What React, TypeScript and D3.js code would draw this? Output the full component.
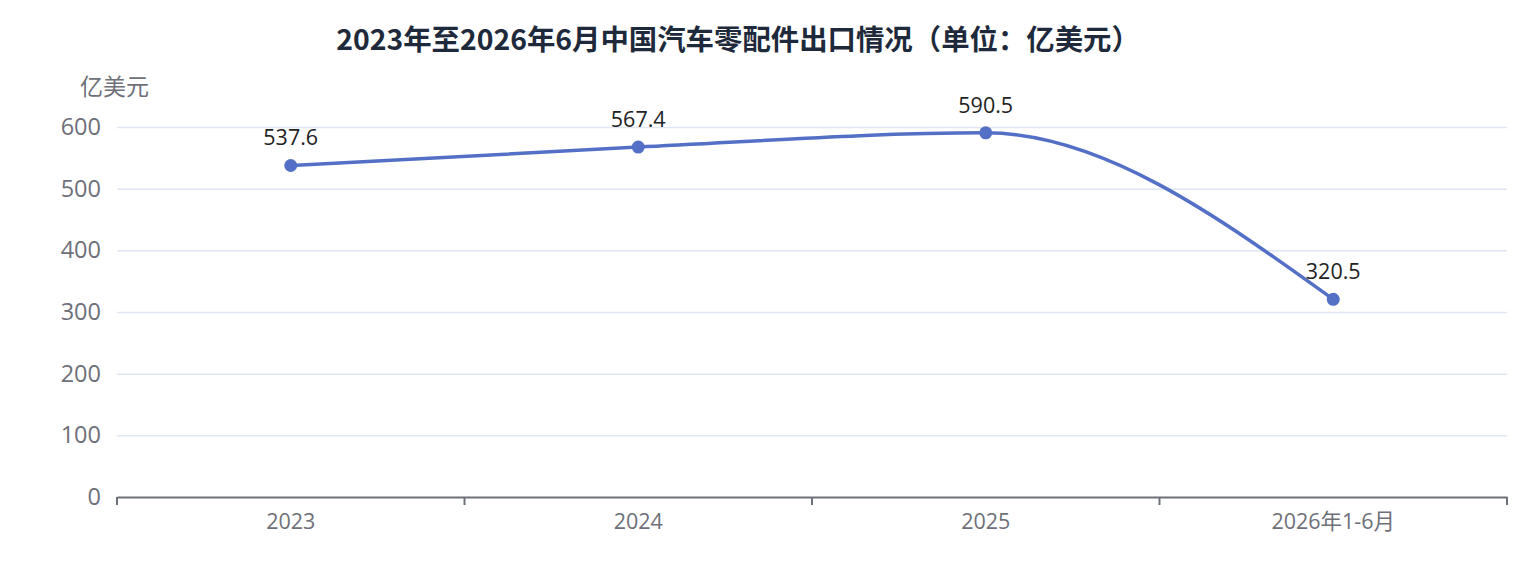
import { useEffect, useRef } from "react";
import * as d3 from "d3";

const categories = ["2023", "2024", "2025", "2026年1-6月"];
const values = [537.6, 567.4, 590.5, 320.5];
const yTicks = [0, 100, 200, 300, 400, 500, 600];

const title = "2023年至2026年6月中国汽车零配件出口情况（单位：亿美元）";
const yName = "亿美元";

const FONT = "'Open Sans', 'Noto Sans CJK SC', sans-serif";
const CJK = "'Noto Sans CJK SC', 'Noto Sans', sans-serif";

export default function App() {
  const ref = useRef<SVGSVGElement | null>(null);

  useEffect(() => {
    document.body.style.margin = "0";
    if (!ref.current) return;

    const width = 1528;
    const height = 583;
    const margin = { top: 127, right: 21, bottom: 86, left: 117 };

    const svg = d3.select(ref.current).attr("viewBox", `0 0 ${width} ${height}`);
    svg.selectAll("*").remove();
    svg.style("font-family", FONT);

    /* ---------------- SCALES ---------------- */

    const x = d3
      .scaleBand()
      .domain(categories)
      .range([margin.left, width - margin.right]);

    const y = d3
      .scaleLinear()
      .domain([0, 600])
      .range([height - margin.bottom, margin.top]);

    const cx = (c: string) => x(c)! + x.bandwidth() / 2;

    /* ---------------- TITLE ---------------- */

    svg.append("text")
      .attr("x", 738)
      .attr("y", 50)
      .attr("text-anchor", "middle")
      .attr("font-size", 28.4)
      .attr("font-weight", "bold")
      .attr("font-family", CJK)
      .attr("fill", "#1e2a3b")
      .text(title);

    svg.append("text")
      .attr("x", 80)
      .attr("y", 95)
      .attr("font-size", 23)
      .attr("font-family", CJK)
      .attr("fill", "#6e7079")
      .text(yName);

    /* ---------------- AXES ---------------- */

    const yAxis = d3
      .axisLeft(y)
      .tickValues(yTicks)
      .tickSize(-(width - margin.left - margin.right))
      .tickPadding(16);

    const gy = svg.append("g")
      .attr("transform", `translate(${margin.left},0)`)
      .call(yAxis);

    gy.select(".domain").remove();
    gy.selectAll(".tick line").attr("stroke", "#e0e6f1").attr("stroke-width", 1.5);
    gy.selectAll(".tick text")
      .attr("font-size", 23.5)
      .attr("fill", "#6e7079")
      .attr("font-family", FONT);
    gy.selectAll(".tick").filter((d) => d === 0).select("line").remove();

    const gx = svg.append("g")
      .attr("transform", `translate(0,${height - margin.bottom})`)
      .call(d3.axisBottom(x).tickSize(0).tickPadding(17));

    gx.select(".domain").attr("stroke", "#6e7079").attr("stroke-width", 2);
    gx.selectAll(".tick text")
      .attr("font-size", 21.5)
      .attr("fill", "#6e7079")
      .attr("font-family", FONT);

    // boundary ticks between categories
    const bounds = [...categories.map((c) => x(c)!), width - margin.right];
    gx.selectAll(".bound")
      .data(bounds)
      .enter()
      .append("line")
      .attr("x1", (d) => d)
      .attr("x2", (d) => d)
      .attr("y1", 0)
      .attr("y2", 8)
      .attr("stroke", "#6e7079")
      .attr("stroke-width", 2);

    /* ---------------- LINE ---------------- */

    const line = d3.line<number>()
      .x((_, i) => cx(categories[i]))
      .y((d) => y(d))
      .curve(d3.curveMonotoneX);

    svg.append("path")
      .datum(values)
      .attr("fill", "none")
      .attr("stroke", "#5470c6")
      .attr("stroke-width", 3.5)
      .attr("d", line);

    svg.selectAll(".dot")
      .data(values)
      .enter()
      .append("circle")
      .attr("cx", (_, i) => cx(categories[i]))
      .attr("cy", (d) => y(d))
      .attr("r", 6.5)
      .attr("fill", "#5470c6");

    svg.selectAll(".label")
      .data(values)
      .enter()
      .append("text")
      .attr("x", (_, i) => cx(categories[i]))
      .attr("y", (d) => y(d) - 20)
      .attr("text-anchor", "middle")
      .attr("font-size", 21.5)
      .attr("fill", "#222")
      .text((d) => d.toFixed(1));
  }, []);

  return <svg ref={ref} width={1528} height={583} style={{ display: "block" }} />;
}
